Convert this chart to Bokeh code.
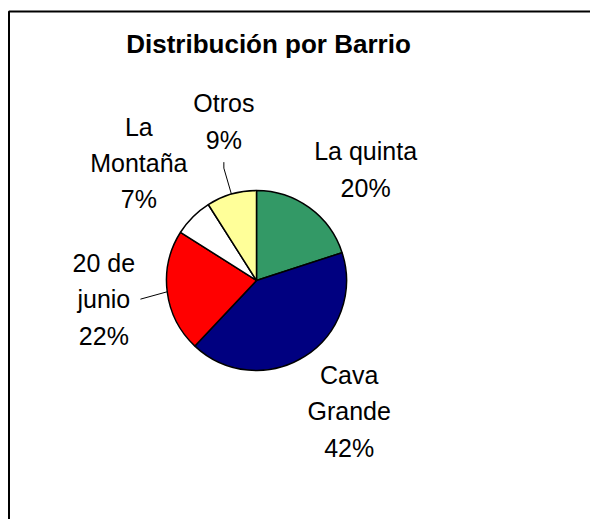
import math
from bokeh.plotting import figure
from bokeh.models import Range1d, ColumnDataSource
from bokeh.core.properties import value
from bokeh.embed import file_html
from bokeh.resources import INLINE

# ---- data ----
titulo = "Distribución por Barrio"
barrios = ["La quinta", "Cava Grande", "20 de junio", "La Montaña", "Otros"]
etiquetas = ["La quinta", "Cava\nGrande", "20 de\njunio", "La\nMontaña", "Otros"]
porcentajes = [20, 42, 22, 7, 9]
colores = ["#339966", "#000080", "#FF0000", "#FFFFFF", "#FFFF99"]
con_guia = [False, False, True, False, True]

# ---- layout (page pixels, y measured downward then flipped) ----
W, H = 590, 519
PCX, PCY, R = 256, 280, 90
FS = 25
LH = 1.3
FONT = "Liberation Sans"


def Y(py):
    return H - py


def text_width(s, fs):
    w = 0.0
    for ch in s:
        if ch in "ijl":
            w += 0.222
        elif ch in "ftrI ":
            w += 0.3
        elif ch in "mMwW":
            w += 0.833
        elif ch in "%":
            w += 0.889
        elif ch in "CDGHNOQRUV":
            w += 0.722
        else:
            w += 0.556
    return w * fs


def clamp(v):
    return max(-1.0, min(1.0, v))


p = figure(width=W, height=H, x_range=Range1d(0, W), y_range=Range1d(0, H),
           output_backend="svg", toolbar_location=None,
           x_axis_type=None, y_axis_type=None, min_border=0,
           outline_line_color=None, background_fill_color="white",
           border_fill_color="white")

total = float(sum(porcentajes))
starts, ends, mids = [], [], []
c = 0.0
for v in porcentajes:
    c0 = c / total
    c += v
    c1 = c / total
    starts.append(math.pi / 2 - 2 * math.pi * c1)
    ends.append(math.pi / 2 - 2 * math.pi * c0)
    mids.append(2 * math.pi * (c0 + c1) / 2)  # clockwise from 12 o'clock

CX, CY = PCX, Y(PCY)
src = ColumnDataSource(dict(x=[CX] * len(porcentajes), y=[CY] * len(porcentajes),
                            start=starts, end=ends, color=colores, barrio=barrios))
p.wedge(x="x", y="y", radius=R, start_angle="start", end_angle="end",
        direction="anticlock", fill_color="color", line_color="black",
        line_width=1.5, source=src)

# data labels
lx, ly, lt = [], [], []
gx, gy = [], []
for lab, v, th, g in zip(etiquetas, porcentajes, mids, con_guia):
    text = f"{lab}\n{v}%"
    lines = text.split("\n")
    w = max(text_width(s, FS) for s in lines)
    h = len(lines) * LH * FS
    dx, dy = math.sin(th), math.cos(th)  # data coords (y up)
    if g:
        ex, ey = CX + dx * 1.3 * R, CY + dy * 1.3 * R
        if abs(dy) > abs(dx):
            tx, ty = ex, ey + math.copysign(6, dy)
            gx.append([CX + dx * R, ex, tx])
            gy.append([CY + dy * R, ey, ty])
            bx, by = tx, ty + math.copysign(h / 2 + 8, dy)
        else:
            gx.append([CX + dx * R, ex])
            gy.append([CY + dy * R, ey - 4])
            bx, by = ex + math.copysign(w / 2 + 5, dx), ey - 4
    else:
        px, py = CX + dx * 1.08 * R, CY + dy * 1.08 * R
        bx = px + w / 2 * clamp(dx / 0.5)
        by = py + h / 2 * clamp(dy / 0.5)
    lx.append(bx)
    ly.append(by)
    lt.append(text)

p.text(x=lx, y=ly, text=lt, text_align="center", text_baseline="middle",
       text_font=value(FONT), text_font_size=f"{FS}px", text_line_height=LH,
       text_color="black")
p.multi_line(xs=gx, ys=gy, line_color="black", line_width=1)

# title
p.text(x=[268], y=[Y(43)], text=[titulo], text_align="center", text_baseline="middle",
       text_font=value(FONT), text_font_size="26px", text_font_style="bold",
       text_color="black")

# chart area border (only left and top edges fall inside the window)
p.line(x=[8.5, 8.5, W + 5], y=[-5, Y(11), Y(11)], line_color="black", line_width=2)

open("out.html", "w").write(file_html(p, INLINE))
